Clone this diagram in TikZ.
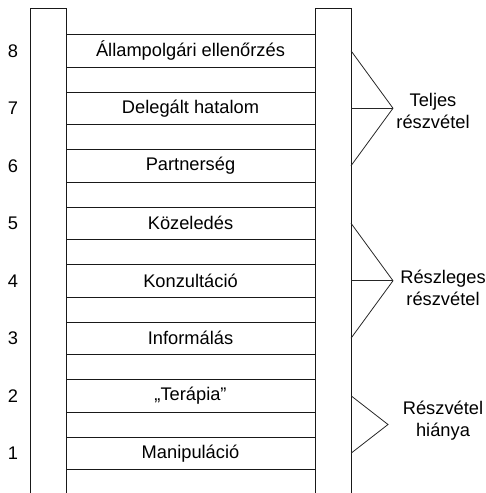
\documentclass[tikz,border=0pt]{standalone}
\usepackage{fontspec}
\setmainfont{Liberation Sans}
\usepackage{tikz}
\usetikzlibrary{calc}
\colorlet{railcol}{black!90}
\colorlet{bracecol}{black!85}
\tikzstyle{rail}=[line width=0.5pt,railcol]
\tikzstyle{rung}=[line width=0.5pt,railcol]
\tikzstyle{step label}=[font=\fontsize{10.4}{12.5}\selectfont,inner sep=0pt]
\tikzstyle{group label}=[font=\fontsize{10.4}{12.5}\selectfont,align=center,inner sep=0pt]
\tikzstyle{brace line}=[line width=0.45pt,bracecol]

\begin{document}
\begin{tikzpicture}[x=0.02cm,y=-0.02cm,line cap=butt]
  \useasboundingbox (0,0) rectangle (486,493);

  % rails, open at the bottom
  \draw[rail] (30,493) -- (30,8) -- (66,8) -- (66,493);
  \draw[rail] (315,493) -- (315,8) -- (351,8) -- (351,493);

  % rungs with the steps between them
  \foreach \k/\txt in {8/Állampolgári ellenőrzés,7/Delegált hatalom,6/Partnerség,5/Közeledés,
                       4/Konzultáció,3/Informálás,2/„Terápia”,1/Manipuláció} {
    \pgfmathsetmacro{\ytop}{34.5+57.5*(8-\k)}
    \pgfmathsetmacro{\ybot}{\ytop+32.5}
    \pgfmathsetmacro{\ymid}{\ytop+16.25}
    \coordinate (a\k) at (66,\ytop);
    \coordinate (b\k) at (315,\ytop);
    \coordinate (c\k) at (66,\ybot);
    \coordinate (d\k) at (315,\ybot);
    \coordinate (edge\k) at (351,\ymid);
    \draw[rung] (a\k) -- (b\k);
    \draw[rung] (c\k) -- (d\k);
    \node[step label] (step\k) at (190.5,\ymid) {\txt};
    \node[step label] (num\k) at (13,\ymid) {\k};
  }

  % groups on the right
  \coordinate (apexT) at (393,108.25);
  \coordinate (apexP) at (393,280.75);
  \coordinate (apexN) at (388,424.5);

  \draw[brace line] (edge8) -- (apexT) -- (edge6);
  \draw[brace line] (edge7) -- (apexT);
  \node[group label] (full) at (433,111) {Teljes\\részvétel};

  \draw[brace line] (edge5) -- (apexP) -- (edge3);
  \draw[brace line] (edge4) -- (apexP);
  \node[group label] (partial) at (443,288) {Részleges\\részvétel};

  \draw[brace line] (edge2) -- (apexN) -- (edge1);
  \node[group label] (none) at (443,421) {Részvétel\\hiánya};
\end{tikzpicture}
\end{document}
